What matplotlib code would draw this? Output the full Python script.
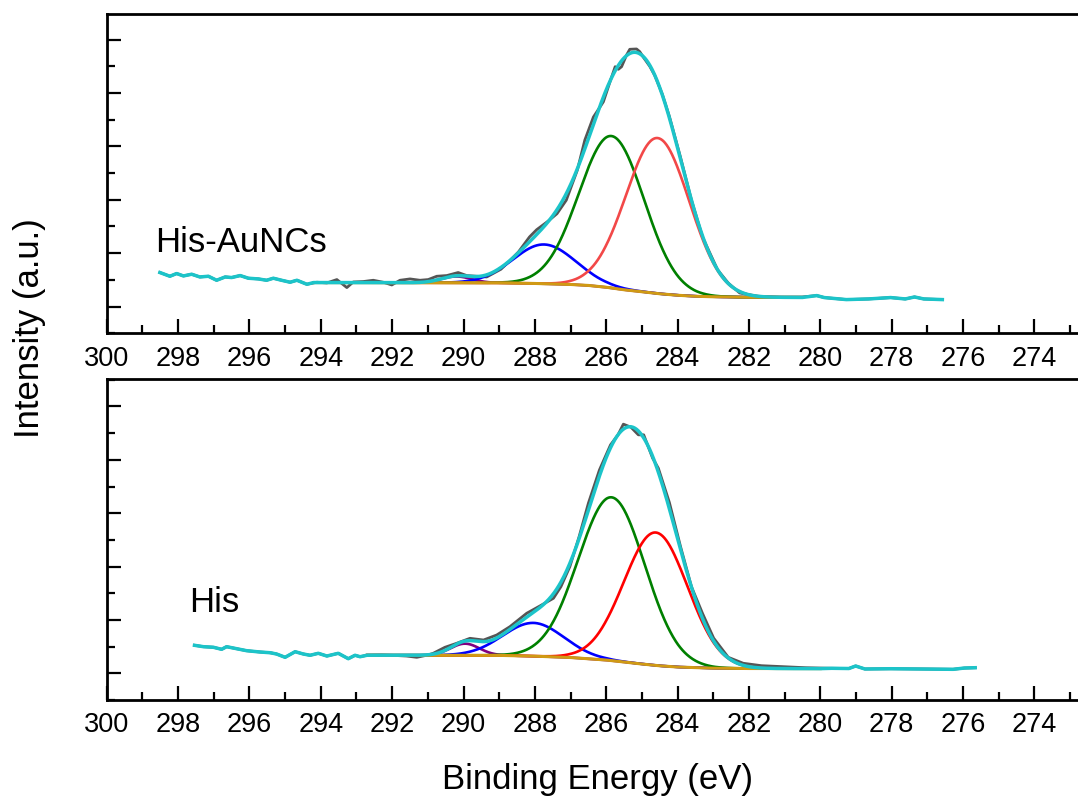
import numpy as np
import matplotlib
matplotlib.use("Agg")
import matplotlib.pyplot as plt
from matplotlib.ticker import MultipleLocator

plt.rcParams['font.family'] = ['Liberation Sans', 'DejaVu Sans']

# ---- His-AuNCs (upper panel), C 1s raw spectrum ----
auncs_be = [298.51, 298.23, 298.04, 297.85, 297.62, 297.39, 297.15, 296.92, 296.68, 296.50,
            296.26, 296.03, 295.75, 295.52, 295.33, 295.10, 294.86, 294.67, 294.39, 294.11,
            293.83, 293.55, 293.27, 293.09, 292.81, 292.53, 292.25, 292.01, 291.78, 291.50,
            291.22, 290.99, 290.75, 290.47, 290.15, 289.91, 289.63, 289.35, 288.95, 288.70,
            288.46, 288.15, 287.95, 287.63, 287.38, 287.12, 286.81, 286.60, 286.36, 286.17,
            286.08, 285.90, 285.75, 285.66, 285.57, 285.43, 285.34, 285.15, 285.06, 284.97,
            284.78, 284.64, 284.43, 284.23, 283.92, 283.61, 283.30, 282.88, 282.58, 282.26,
            281.75, 281.13, 280.51, 280.10, 279.89, 279.27, 278.65, 278.03, 277.62, 277.36,
            277.10, 276.58]
auncs_int = [0.638, 0.568, 0.619, 0.574, 0.606, 0.555, 0.568, 0.493, 0.555, 0.544,
             0.581, 0.531, 0.518, 0.493, 0.531, 0.493, 0.456, 0.493, 0.418, 0.456,
             0.443, 0.506, 0.356, 0.461, 0.469, 0.493, 0.456, 0.405, 0.493, 0.518,
             0.493, 0.506, 0.568, 0.581, 0.638, 0.581, 0.568, 0.555, 0.700, 0.860,
             1.024, 1.305, 1.440, 1.600, 1.740, 1.993, 2.556, 3.119, 3.550, 3.743,
             3.836, 4.200, 4.493, 4.444, 4.493, 4.712, 4.819, 4.825, 4.774, 4.680,
             4.500, 4.330, 3.980, 3.560, 2.800, 1.990, 1.300, 0.690, 0.440, 0.255,
             0.193, 0.180, 0.180, 0.206, 0.169, 0.131, 0.143, 0.169, 0.143, 0.180,
             0.143, 0.131]
auncs_bg_be = [294.2, 289.0, 288.0, 287.0, 286.5, 286.0, 285.5, 285.0, 284.5, 284.0,
               283.5, 283.0, 282.0, 280.5]
auncs_bg = [0.450, 0.444, 0.433, 0.414, 0.396, 0.362, 0.315, 0.278, 0.240, 0.212,
            0.193, 0.184, 0.174, 0.171]
# fitted peaks: centre (eV), height above background, FWHM (eV)
auncs_centre = [290.20, 287.74, 285.85, 284.56]
auncs_height = [0.118, 0.735, 2.846, 2.912]
auncs_fwhm = [1.00, 2.05, 2.15, 2.10]
auncs_fit = (280.5, 294.2)

# ---- His (lower panel) ----
his_be = [297.54, 297.29, 297.01, 296.78, 296.64, 296.36, 296.08, 295.70, 295.42, 295.24,
          295.00, 294.72, 294.49, 294.30, 294.07, 293.83, 293.51, 293.23, 293.04, 292.90,
          292.71, 292.30, 291.90, 291.60, 291.31, 291.00, 290.85, 290.52, 290.19, 289.82,
          289.44, 289.07, 288.70, 288.23, 287.86, 287.48, 287.27, 287.02, 286.76, 286.50,
          286.19, 285.88, 285.67, 285.52, 285.31, 285.10, 284.95, 284.70, 284.54, 284.23,
          283.92, 283.61, 283.30, 282.99, 282.58, 282.16, 281.65, 281.03, 280.41, 279.68,
          279.20, 279.01, 278.75, 278.03, 277.10, 276.28, 275.96, 275.66]
his_int = [0.525, 0.499, 0.488, 0.450, 0.499, 0.461, 0.424, 0.399, 0.386, 0.362,
           0.300, 0.405, 0.362, 0.338, 0.375, 0.324, 0.375, 0.274, 0.338, 0.311,
           0.338, 0.343, 0.334, 0.324, 0.300, 0.343, 0.375, 0.488, 0.563, 0.656,
           0.624, 0.718, 0.874, 1.125, 1.262, 1.406, 1.624, 1.999, 2.561, 3.188,
           3.812, 4.281, 4.469, 4.669, 4.613, 4.469, 4.469, 4.032, 3.844, 3.200,
           2.380, 1.620, 1.120, 0.660, 0.300, 0.188, 0.143, 0.124, 0.105, 0.094,
           0.090, 0.137, 0.081, 0.086, 0.081, 0.075, 0.099, 0.105]
his_bg_be = [292.7, 289.0, 288.0, 287.0, 286.0, 285.5, 285.0, 284.5, 284.0, 283.0,
             282.0, 280.0]
his_bg = [0.339, 0.336, 0.321, 0.296, 0.249, 0.212, 0.174, 0.141, 0.118, 0.096,
          0.090, 0.088]
his_centre = [289.96, 288.04, 285.85, 284.61]
his_height = [0.219, 0.623, 3.060, 2.490]
his_fwhm = [0.95, 2.00, 2.20, 2.10]
his_fit = (280.0, 292.7)

raw_color = '#555555'
env_color = '#1CC4C9'
bg_color = '#D09A14'


def draw_panel(ax, be, inten, bg_be, bg, centres, heights, fwhms, colors, fit, label, label_pos):
    be = np.asarray(be)
    inten = np.asarray(inten)
    ax.plot(be, inten, color=raw_color, lw=2.0, zorder=2)

    lo, hi = fit
    grid = np.linspace(hi, lo, 800)
    bg_grid = np.interp(grid, bg_be[::-1], bg[::-1])
    total = bg_grid.copy()
    for c, h, w, col in zip(centres, heights, fwhms, colors):
        sigma = w / (2 * np.sqrt(2 * np.log(2)))
        peak = h * np.exp(-0.5 * ((grid - c) / sigma) ** 2)
        total += peak
        ax.plot(grid, bg_grid + peak, color=col, lw=1.9, zorder=3)
    ax.plot(bg_be, bg, color=bg_color, lw=2.2, zorder=4)

    # cumulative fit inside the fit window, data outside it
    env_x = np.concatenate([be[be > hi], grid, be[be < lo]])
    env_y = np.concatenate([inten[be > hi], total, inten[be < lo]])
    ax.plot(env_x, env_y, color=env_color, lw=2.5, zorder=5)

    ax.text(label_pos[0], label_pos[1], label, fontsize=25, ha='left', va='baseline')

    ax.set_xlim(300, 272.5)
    ax.xaxis.set_major_locator(MultipleLocator(2))
    ax.xaxis.set_minor_locator(MultipleLocator(1))
    ax.yaxis.set_major_locator(MultipleLocator(1))
    ax.yaxis.set_minor_locator(MultipleLocator(0.5))
    ax.tick_params(which='both', direction='in', top=False, right=False,
                   labelleft=False, width=1.6)
    ax.tick_params(which='major', length=10)
    ax.tick_params(which='minor', length=5.5)
    ax.tick_params(axis='x', labelsize=19.5, pad=9)
    ax.spines['right'].set_visible(False)
    for s in ['left', 'top', 'bottom']:
        ax.spines[s].set_linewidth(2.0)


fig = plt.figure(figsize=(10.78, 8), dpi=100)
ax_top = fig.add_axes([0.099, 0.5834, 0.9102, 0.3991])
ax_bot = fig.add_axes([0.099, 0.125, 0.9102, 0.4009])

draw_panel(ax_top, auncs_be, auncs_int, auncs_bg_be, auncs_bg,
           auncs_centre, auncs_height, auncs_fwhm,
           ['#800080', '#0000FF', '#008000', '#F24848'],
           auncs_fit, 'His-AuNCs', (298.65, 1.02))
ax_top.set_ylim(-0.5, 5.48)

draw_panel(ax_bot, his_be, his_int, his_bg_be, his_bg,
           his_centre, his_height, his_fwhm,
           ['#800080', '#0000FF', '#008000', '#FF0000'],
           his_fit, 'His', (297.68, 1.155))
ax_bot.set_ylim(-0.5, 5.51)

fig.text(30 / 1078, 1 - 328 / 800, 'Intensity (a.u.)', rotation=90,
         fontsize=25, ha='center', va='center')
fig.text(597 / 1078, 1 - 779 / 800, 'Binding Energy (eV)',
         fontsize=25, ha='center', va='center')

fig.savefig('out.png', dpi=100)
